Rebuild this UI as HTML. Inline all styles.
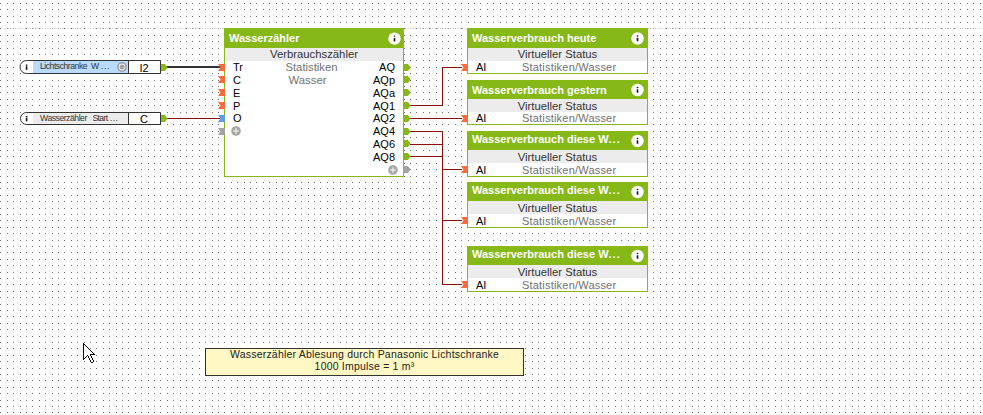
<!DOCTYPE html>
<html><head><meta charset="utf-8"><style>
html,body{margin:0;padding:0;}
body{width:983px;height:415px;overflow:hidden;position:relative;background:#fff;font-family:'Liberation Sans', sans-serif;}
</style></head><body>
<svg width="983" height="415" style="position:absolute;left:0;top:0">
<defs><pattern id="dp" x="0" y="0" width="32" height="32" patternUnits="userSpaceOnUse"><g fill="#6e6e6e"><rect x="0" y="3" width="1" height="1"/><rect x="0" y="9" width="1" height="1"/><rect x="0" y="16" width="1" height="1"/><rect x="0" y="22" width="1" height="1"/><rect x="0" y="28" width="1" height="1"/><rect x="7" y="3" width="1" height="1"/><rect x="7" y="9" width="1" height="1"/><rect x="7" y="16" width="1" height="1"/><rect x="7" y="22" width="1" height="1"/><rect x="7" y="28" width="1" height="1"/><rect x="13" y="3" width="1" height="1"/><rect x="13" y="9" width="1" height="1"/><rect x="13" y="16" width="1" height="1"/><rect x="13" y="22" width="1" height="1"/><rect x="13" y="28" width="1" height="1"/><rect x="20" y="3" width="1" height="1"/><rect x="20" y="9" width="1" height="1"/><rect x="20" y="16" width="1" height="1"/><rect x="20" y="22" width="1" height="1"/><rect x="20" y="28" width="1" height="1"/><rect x="26" y="3" width="1" height="1"/><rect x="26" y="9" width="1" height="1"/><rect x="26" y="16" width="1" height="1"/><rect x="26" y="22" width="1" height="1"/><rect x="26" y="28" width="1" height="1"/></g></pattern></defs>
<rect x="0" y="0" width="983" height="415" fill="url(#dp)"/>
<line x1="5" y1="28.5" x2="983" y2="28.5" stroke="#c4c4c4" stroke-width="1" stroke-dasharray="1 1.5"/>
<line x1="6" y1="29" x2="6" y2="415" stroke="#ececec" stroke-width="2" stroke-dasharray="1 1"/>
</svg><div style="position:absolute;left:224px;top:28px;width:180px;height:149px;box-sizing:border-box;border:1px solid #86b817;background:#fff"></div><div style="position:absolute;left:224px;top:28px;width:180px;height:20px;background:#86b817"></div><div style="position:absolute;left:225px;top:48px;width:178px;height:13px;background:#ececec"></div><div style="position:absolute;left:229px;top:31px;text-align:left;white-space:pre;font-family:'Liberation Sans', sans-serif;font-size:11px;font-weight:bold;color:#fff;line-height:14px">Wasserzähler</div><div style="position:absolute;left:224px;top:47px;width:180px;text-align:center;white-space:pre;font-family:'Liberation Sans', sans-serif;font-size:11.3px;color:#333;line-height:14px">Verbrauchszähler</div><svg width="14" height="14" style="position:absolute;left:387px;top:31px" viewBox="0 0 14 14">
<circle cx="7.50" cy="7.60" r="6.2" fill="#fff"/>
<ellipse cx="7.50" cy="5.10" rx="0.9" ry="0.7" fill="#111"/>
<rect x="6.70" y="6.90" width="1.6" height="3.5" rx="0.5" fill="#111"/>
</svg><div style="position:absolute;left:467px;top:28px;width:181px;height:46px;box-sizing:border-box;border:1px solid #86b817;background:#fff"></div><div style="position:absolute;left:467px;top:28px;width:181px;height:20px;background:#86b817"></div><div style="position:absolute;left:468px;top:48px;width:179px;height:13px;background:#ececec"></div><div style="position:absolute;left:472px;top:31px;text-align:left;white-space:pre;font-family:'Liberation Sans', sans-serif;font-size:11px;font-weight:bold;color:#fff;line-height:14px">Wasserverbrauch heute</div><div style="position:absolute;left:467px;top:47px;width:181px;text-align:center;white-space:pre;font-family:'Liberation Sans', sans-serif;font-size:11.3px;color:#333;line-height:14px">Virtueller Status</div><svg width="14" height="14" style="position:absolute;left:630px;top:31px" viewBox="0 0 14 14">
<circle cx="7.50" cy="7.50" r="6.2" fill="#fff"/>
<ellipse cx="7.50" cy="5.00" rx="0.9" ry="0.7" fill="#111"/>
<rect x="6.70" y="6.80" width="1.6" height="3.5" rx="0.5" fill="#111"/>
</svg><div style="position:absolute;left:476px;top:60px;text-align:left;white-space:pre;font-family:'Liberation Sans', sans-serif;font-size:11px;color:#000;line-height:14px">AI</div><div style="position:absolute;left:522px;top:60px;text-align:left;white-space:pre;font-family:'Liberation Sans', sans-serif;font-size:11px;letter-spacing:0.2px;color:#707070;line-height:14px">Statistiken/Wasser</div><div style="position:absolute;left:467px;top:80px;width:181px;height:45px;box-sizing:border-box;border:1px solid #86b817;background:#fff"></div><div style="position:absolute;left:467px;top:80px;width:181px;height:19px;background:#86b817"></div><div style="position:absolute;left:468px;top:99px;width:179px;height:13px;background:#ececec"></div><div style="position:absolute;left:472px;top:83px;text-align:left;white-space:pre;font-family:'Liberation Sans', sans-serif;font-size:11px;font-weight:bold;color:#fff;line-height:14px">Wasserverbrauch gestern</div><div style="position:absolute;left:467px;top:99px;width:181px;text-align:center;white-space:pre;font-family:'Liberation Sans', sans-serif;font-size:11.3px;color:#333;line-height:14px">Virtueller Status</div><svg width="14" height="14" style="position:absolute;left:630px;top:83px" viewBox="0 0 14 14">
<circle cx="7.50" cy="7.00" r="6.2" fill="#fff"/>
<ellipse cx="7.50" cy="4.50" rx="0.9" ry="0.7" fill="#111"/>
<rect x="6.70" y="6.30" width="1.6" height="3.5" rx="0.5" fill="#111"/>
</svg><div style="position:absolute;left:476px;top:111px;text-align:left;white-space:pre;font-family:'Liberation Sans', sans-serif;font-size:11px;color:#000;line-height:14px">AI</div><div style="position:absolute;left:522px;top:111px;text-align:left;white-space:pre;font-family:'Liberation Sans', sans-serif;font-size:11px;letter-spacing:0.2px;color:#707070;line-height:14px">Statistiken/Wasser</div><div style="position:absolute;left:467px;top:131px;width:181px;height:46px;box-sizing:border-box;border:1px solid #86b817;background:#fff"></div><div style="position:absolute;left:467px;top:131px;width:181px;height:19px;background:#86b817"></div><div style="position:absolute;left:468px;top:150px;width:179px;height:13px;background:#ececec"></div><div style="position:absolute;left:472px;top:132px;text-align:left;white-space:pre;font-family:'Liberation Sans', sans-serif;font-size:11px;font-weight:bold;color:#fff;line-height:14px">Wasserverbrauch diese W<span style='letter-spacing:1px'>...</span></div><div style="position:absolute;left:467px;top:150px;width:181px;text-align:center;white-space:pre;font-family:'Liberation Sans', sans-serif;font-size:11.3px;color:#333;line-height:14px">Virtueller Status</div><svg width="14" height="14" style="position:absolute;left:630px;top:134px" viewBox="0 0 14 14">
<circle cx="7.50" cy="7.00" r="6.2" fill="#fff"/>
<ellipse cx="7.50" cy="4.50" rx="0.9" ry="0.7" fill="#111"/>
<rect x="6.70" y="6.30" width="1.6" height="3.5" rx="0.5" fill="#111"/>
</svg><div style="position:absolute;left:476px;top:163px;text-align:left;white-space:pre;font-family:'Liberation Sans', sans-serif;font-size:11px;color:#000;line-height:14px">AI</div><div style="position:absolute;left:522px;top:163px;text-align:left;white-space:pre;font-family:'Liberation Sans', sans-serif;font-size:11px;letter-spacing:0.2px;color:#707070;line-height:14px">Statistiken/Wasser</div><div style="position:absolute;left:467px;top:182px;width:181px;height:46px;box-sizing:border-box;border:1px solid #86b817;background:#fff"></div><div style="position:absolute;left:467px;top:182px;width:181px;height:19px;background:#86b817"></div><div style="position:absolute;left:468px;top:201px;width:179px;height:13px;background:#ececec"></div><div style="position:absolute;left:472px;top:183px;text-align:left;white-space:pre;font-family:'Liberation Sans', sans-serif;font-size:11px;font-weight:bold;color:#fff;line-height:14px">Wasserverbrauch diese W<span style='letter-spacing:1px'>...</span></div><div style="position:absolute;left:467px;top:201px;width:181px;text-align:center;white-space:pre;font-family:'Liberation Sans', sans-serif;font-size:11.3px;color:#333;line-height:14px">Virtueller Status</div><svg width="14" height="14" style="position:absolute;left:630px;top:185px" viewBox="0 0 14 14">
<circle cx="7.50" cy="7.00" r="6.2" fill="#fff"/>
<ellipse cx="7.50" cy="4.50" rx="0.9" ry="0.7" fill="#111"/>
<rect x="6.70" y="6.30" width="1.6" height="3.5" rx="0.5" fill="#111"/>
</svg><div style="position:absolute;left:476px;top:214px;text-align:left;white-space:pre;font-family:'Liberation Sans', sans-serif;font-size:11px;color:#000;line-height:14px">AI</div><div style="position:absolute;left:522px;top:214px;text-align:left;white-space:pre;font-family:'Liberation Sans', sans-serif;font-size:11px;letter-spacing:0.2px;color:#707070;line-height:14px">Statistiken/Wasser</div><div style="position:absolute;left:467px;top:246px;width:181px;height:46px;box-sizing:border-box;border:1px solid #86b817;background:#fff"></div><div style="position:absolute;left:467px;top:246px;width:181px;height:19px;background:#86b817"></div><div style="position:absolute;left:468px;top:265px;width:179px;height:13px;background:#ececec"></div><div style="position:absolute;left:472px;top:247px;text-align:left;white-space:pre;font-family:'Liberation Sans', sans-serif;font-size:11px;font-weight:bold;color:#fff;line-height:14px">Wasserverbrauch diese W<span style='letter-spacing:1px'>...</span></div><div style="position:absolute;left:467px;top:265px;width:181px;text-align:center;white-space:pre;font-family:'Liberation Sans', sans-serif;font-size:11.3px;color:#333;line-height:14px">Virtueller Status</div><svg width="14" height="14" style="position:absolute;left:630px;top:249px" viewBox="0 0 14 14">
<circle cx="7.50" cy="7.00" r="6.2" fill="#fff"/>
<ellipse cx="7.50" cy="4.50" rx="0.9" ry="0.7" fill="#111"/>
<rect x="6.70" y="6.30" width="1.6" height="3.5" rx="0.5" fill="#111"/>
</svg><div style="position:absolute;left:476px;top:278px;text-align:left;white-space:pre;font-family:'Liberation Sans', sans-serif;font-size:11px;color:#000;line-height:14px">AI</div><div style="position:absolute;left:522px;top:278px;text-align:left;white-space:pre;font-family:'Liberation Sans', sans-serif;font-size:11px;letter-spacing:0.2px;color:#707070;line-height:14px">Statistiken/Wasser</div><svg width="983" height="415" style="position:absolute;left:0;top:0">
<g fill="none" stroke="#8c0b0b" stroke-width="1" shape-rendering="crispEdges">
<polyline points="410,105.5 442.5,105.5 442.5,67.5 462,67.5"/>
<polyline points="410,118.5 462,118.5"/>
<polyline points="410,131.5 442.5,131.5"/>
<polyline points="410,144.5 442.5,144.5"/>
<polyline points="410,156.5 442.5,156.5"/>
<polyline points="442.5,131 442.5,284.5 462,284.5"/>
<polyline points="442.5,169.5 462,169.5"/>
<polyline points="442.5,220.5 462,220.5"/>
<polyline points="166,118.5 220,118.5"/>
</g>
<line x1="166" y1="67" x2="221" y2="67" stroke="#333" stroke-width="2"/>
</svg><div style="position:absolute;left:233px;top:60px;text-align:left;white-space:pre;font-family:'Liberation Sans', sans-serif;font-size:11px;color:#000;line-height:14px">Tr</div><div style="position:absolute;left:233px;top:73px;text-align:left;white-space:pre;font-family:'Liberation Sans', sans-serif;font-size:11px;color:#000;line-height:14px">C</div><div style="position:absolute;left:233px;top:86px;text-align:left;white-space:pre;font-family:'Liberation Sans', sans-serif;font-size:11px;color:#000;line-height:14px">E</div><div style="position:absolute;left:233px;top:99px;text-align:left;white-space:pre;font-family:'Liberation Sans', sans-serif;font-size:11px;color:#000;line-height:14px">P</div><div style="position:absolute;left:233px;top:111px;text-align:left;white-space:pre;font-family:'Liberation Sans', sans-serif;font-size:11px;color:#000;line-height:14px">O</div><div style="position:absolute;left:295px;top:60px;width:100px;text-align:right;white-space:pre;font-family:'Liberation Sans', sans-serif;font-size:11px;color:#000;line-height:14px">AQ</div><div style="position:absolute;left:295px;top:73px;width:100px;text-align:right;white-space:pre;font-family:'Liberation Sans', sans-serif;font-size:11px;color:#000;line-height:14px">AQp</div><div style="position:absolute;left:295px;top:86px;width:100px;text-align:right;white-space:pre;font-family:'Liberation Sans', sans-serif;font-size:11px;color:#000;line-height:14px">AQa</div><div style="position:absolute;left:295px;top:99px;width:100px;text-align:right;white-space:pre;font-family:'Liberation Sans', sans-serif;font-size:11px;color:#000;line-height:14px">AQ1</div><div style="position:absolute;left:295px;top:111px;width:100px;text-align:right;white-space:pre;font-family:'Liberation Sans', sans-serif;font-size:11px;color:#000;line-height:14px">AQ2</div><div style="position:absolute;left:295px;top:124px;width:100px;text-align:right;white-space:pre;font-family:'Liberation Sans', sans-serif;font-size:11px;color:#000;line-height:14px">AQ4</div><div style="position:absolute;left:295px;top:137px;width:100px;text-align:right;white-space:pre;font-family:'Liberation Sans', sans-serif;font-size:11px;color:#000;line-height:14px">AQ6</div><div style="position:absolute;left:295px;top:150px;width:100px;text-align:right;white-space:pre;font-family:'Liberation Sans', sans-serif;font-size:11px;color:#000;line-height:14px">AQ8</div><div style="position:absolute;left:224px;top:60px;width:175px;text-align:center;white-space:pre;font-family:'Liberation Sans', sans-serif;font-size:11.3px;color:#727272;line-height:14px">Statistiken</div><div style="position:absolute;left:224px;top:73px;width:167px;text-align:center;white-space:pre;font-family:'Liberation Sans', sans-serif;font-size:11.3px;color:#727272;line-height:14px">Wasser</div><svg width="983" height="415" style="position:absolute;left:0;top:0"><polygon points="218,64 225,64 225,71 218,71 220.5,67.5" fill="#ff6a3c"/><polygon points="218,76 225,76 225,83 218,83 220.5,79.5" fill="#ff6a3c"/><polygon points="218,89 225,89 225,96 218,96 220.5,92.5" fill="#ff6a3c"/><polygon points="218,102 225,102 225,109 218,109 220.5,105.5" fill="#ff6a3c"/><polygon points="218,115 225,115 225,122 218,122 220.5,118.5" fill="#5b9de6"/><polygon points="218,128 225,128 225,135 218,135 220.5,131.5" fill="#a2a2a2"/><polygon points="403,64 408,64 410.5,67.5 408,71 403,71" fill="#86b817"/><polygon points="403,76 408,76 410.5,79.5 408,83 403,83" fill="#86b817"/><polygon points="403,89 408,89 410.5,92.5 408,96 403,96" fill="#86b817"/><polygon points="403,102 408,102 410.5,105.5 408,109 403,109" fill="#86b817"/><polygon points="403,115 408,115 410.5,118.5 408,122 403,122" fill="#86b817"/><polygon points="403,128 408,128 410.5,131.5 408,135 403,135" fill="#86b817"/><polygon points="403,140 408,140 410.5,143.5 408,147 403,147" fill="#86b817"/><polygon points="403,153 408,153 410.5,156.5 408,160 403,160" fill="#86b817"/><polygon points="403,166 408,166 410.5,169.5 408,173 403,173" fill="#a2a2a2"/><polygon points="461,64 468,64 468,71 461,71 463.5,67.5" fill="#ff6a3c"/><polygon points="461,115 468,115 468,122 461,122 463.5,118.5" fill="#ff6a3c"/><polygon points="461,166 468,166 468,173 461,173 463.5,169.5" fill="#ff6a3c"/><polygon points="461,217 468,217 468,224 461,224 463.5,220.5" fill="#ff6a3c"/><polygon points="461,281 468,281 468,288 461,288 463.5,284.5" fill="#ff6a3c"/><polygon points="160,64 165,64 167.5,67.5 165,71 160,71" fill="#86b817"/><polygon points="160,115 165,115 167.5,118.5 165,122 160,122" fill="#86b817"/></svg><svg width="12" height="12" style="position:absolute;left:230px;top:125px" viewBox="0 0 12 12">
<circle cx="6" cy="6" r="4.8" fill="#a6a6a6"/>
<rect x="5.35" y="3.2" width="1.3" height="5.6" fill="#eee"/><rect x="3.2" y="5.35" width="5.6" height="1.3" fill="#eee"/>
</svg><svg width="12" height="12" style="position:absolute;left:386.5px;top:163.5px" viewBox="0 0 12 12">
<circle cx="6" cy="6" r="4.8" fill="#a6a6a6"/>
<rect x="5.35" y="3.2" width="1.3" height="5.6" fill="#eee"/><rect x="3.2" y="5.35" width="5.6" height="1.3" fill="#eee"/>
</svg><svg width="150" height="16" style="position:absolute;left:15px;top:59px" viewBox="0 0 150 16">
<path d="M11.5,1.5 H145.5 V14.5 H11.5 A6.5,6.5 0 0 1 11.5,1.5 Z" fill="#fff" stroke="#333" stroke-width="1"/>
<rect x="18" y="2" width="95" height="12" fill="#b8dbff"/>
<line x1="113.5" y1="1.5" x2="113.5" y2="14.5" stroke="#333" stroke-width="1"/>
<rect x="10.8" y="5.5" width="1.6" height="1.3" fill="#111"/>
<rect x="10.8" y="7.3" width="1.6" height="3.5" fill="#111"/>
</svg><div style="position:absolute;left:40px;top:60px;text-align:left;white-space:pre;font-family:'Liberation Sans', sans-serif;font-size:8.7px;color:#333;line-height:12px;letter-spacing:-0.5px">Lichtschranke</div><div style="position:absolute;left:91px;top:60px;text-align:left;white-space:pre;font-family:'Liberation Sans', sans-serif;font-size:8.7px;color:#333;line-height:12px;letter-spacing:0px">W</div><div style="position:absolute;left:101px;top:60px;text-align:left;white-space:pre;font-family:'Liberation Sans', sans-serif;font-size:8.7px;color:#333;line-height:12px;letter-spacing:0.6px">...</div><div style="position:absolute;left:128px;top:61px;width:32px;text-align:center;white-space:pre;font-family:'Liberation Sans', sans-serif;font-size:11px;color:#000;line-height:14px">I2</div><svg width="12" height="12" style="position:absolute;left:116.1px;top:60.900000000000006px" viewBox="0 0 12 12">
<circle cx="6" cy="6" r="4.9" fill="#9c9c9c"/><circle cx="6" cy="6" r="3.4" fill="#f4f4f4"/><circle cx="6" cy="6" r="2.5" fill="#a4a4a4"/></svg><svg width="150" height="16" style="position:absolute;left:15px;top:111px" viewBox="0 0 150 16">
<path d="M11.5,1.5 H145.5 V13.5 H11.5 A6.0,6.0 0 0 1 11.5,1.5 Z" fill="#fff" stroke="#333" stroke-width="1"/>
<rect x="18" y="2" width="95" height="11" fill="#ececec"/>
<line x1="113.5" y1="1.5" x2="113.5" y2="13.5" stroke="#333" stroke-width="1"/>
<rect x="10.8" y="5.0" width="1.6" height="1.3" fill="#111"/>
<rect x="10.8" y="6.8" width="1.6" height="3.5" fill="#111"/>
</svg><div style="position:absolute;left:40px;top:112px;text-align:left;white-space:pre;font-family:'Liberation Sans', sans-serif;font-size:8.7px;color:#333;line-height:12px;letter-spacing:-0.5px">Wasserzähler</div><div style="position:absolute;left:92.5px;top:112px;text-align:left;white-space:pre;font-family:'Liberation Sans', sans-serif;font-size:8.7px;color:#333;line-height:12px;letter-spacing:-0.7px">Start</div><div style="position:absolute;left:110px;top:112px;text-align:left;white-space:pre;font-family:'Liberation Sans', sans-serif;font-size:8.7px;color:#333;line-height:12px;letter-spacing:0.3px">...</div><div style="position:absolute;left:128px;top:112px;width:32px;text-align:center;white-space:pre;font-family:'Liberation Sans', sans-serif;font-size:11px;color:#000;line-height:14px">C</div><div style="position:absolute;left:205px;top:348px;width:319px;height:28px;box-sizing:border-box;border:1px solid #333;background:#fff8c4"></div><div style="position:absolute;left:205px;top:348px;width:319px;text-align:center;white-space:pre;font-family:'Liberation Sans', sans-serif;font-size:10.5px;color:#222;line-height:12px;letter-spacing:0.2px">Wasserzähler Ablesung durch Panasonic Lichtschranke
1000 Impulse = 1 m³</div><svg width="12" height="20" style="position:absolute;left:83px;top:343px" shape-rendering="crispEdges"><rect x="0" y="0" width="1" height="1" fill="#000"/><rect x="0" y="1" width="1" height="1" fill="#000"/><rect x="1" y="1" width="1" height="1" fill="#000"/><rect x="0" y="2" width="1" height="1" fill="#000"/><rect x="1" y="2" width="1" height="1" fill="#fff"/><rect x="2" y="2" width="1" height="1" fill="#000"/><rect x="0" y="3" width="1" height="1" fill="#000"/><rect x="1" y="3" width="1" height="1" fill="#fff"/><rect x="2" y="3" width="1" height="1" fill="#fff"/><rect x="3" y="3" width="1" height="1" fill="#000"/><rect x="0" y="4" width="1" height="1" fill="#000"/><rect x="1" y="4" width="1" height="1" fill="#fff"/><rect x="2" y="4" width="1" height="1" fill="#fff"/><rect x="3" y="4" width="1" height="1" fill="#fff"/><rect x="4" y="4" width="1" height="1" fill="#000"/><rect x="0" y="5" width="1" height="1" fill="#000"/><rect x="1" y="5" width="1" height="1" fill="#fff"/><rect x="2" y="5" width="1" height="1" fill="#fff"/><rect x="3" y="5" width="1" height="1" fill="#fff"/><rect x="4" y="5" width="1" height="1" fill="#fff"/><rect x="5" y="5" width="1" height="1" fill="#000"/><rect x="0" y="6" width="1" height="1" fill="#000"/><rect x="1" y="6" width="1" height="1" fill="#fff"/><rect x="2" y="6" width="1" height="1" fill="#fff"/><rect x="3" y="6" width="1" height="1" fill="#fff"/><rect x="4" y="6" width="1" height="1" fill="#fff"/><rect x="5" y="6" width="1" height="1" fill="#fff"/><rect x="6" y="6" width="1" height="1" fill="#000"/><rect x="0" y="7" width="1" height="1" fill="#000"/><rect x="1" y="7" width="1" height="1" fill="#fff"/><rect x="2" y="7" width="1" height="1" fill="#fff"/><rect x="3" y="7" width="1" height="1" fill="#fff"/><rect x="4" y="7" width="1" height="1" fill="#fff"/><rect x="5" y="7" width="1" height="1" fill="#fff"/><rect x="6" y="7" width="1" height="1" fill="#fff"/><rect x="7" y="7" width="1" height="1" fill="#000"/><rect x="0" y="8" width="1" height="1" fill="#000"/><rect x="1" y="8" width="1" height="1" fill="#fff"/><rect x="2" y="8" width="1" height="1" fill="#fff"/><rect x="3" y="8" width="1" height="1" fill="#fff"/><rect x="4" y="8" width="1" height="1" fill="#fff"/><rect x="5" y="8" width="1" height="1" fill="#fff"/><rect x="6" y="8" width="1" height="1" fill="#fff"/><rect x="7" y="8" width="1" height="1" fill="#fff"/><rect x="8" y="8" width="1" height="1" fill="#000"/><rect x="0" y="9" width="1" height="1" fill="#000"/><rect x="1" y="9" width="1" height="1" fill="#fff"/><rect x="2" y="9" width="1" height="1" fill="#fff"/><rect x="3" y="9" width="1" height="1" fill="#fff"/><rect x="4" y="9" width="1" height="1" fill="#fff"/><rect x="5" y="9" width="1" height="1" fill="#fff"/><rect x="6" y="9" width="1" height="1" fill="#fff"/><rect x="7" y="9" width="1" height="1" fill="#fff"/><rect x="8" y="9" width="1" height="1" fill="#fff"/><rect x="9" y="9" width="1" height="1" fill="#000"/><rect x="0" y="10" width="1" height="1" fill="#000"/><rect x="1" y="10" width="1" height="1" fill="#fff"/><rect x="2" y="10" width="1" height="1" fill="#fff"/><rect x="3" y="10" width="1" height="1" fill="#fff"/><rect x="4" y="10" width="1" height="1" fill="#fff"/><rect x="5" y="10" width="1" height="1" fill="#fff"/><rect x="6" y="10" width="1" height="1" fill="#fff"/><rect x="7" y="10" width="1" height="1" fill="#fff"/><rect x="8" y="10" width="1" height="1" fill="#fff"/><rect x="9" y="10" width="1" height="1" fill="#fff"/><rect x="10" y="10" width="1" height="1" fill="#000"/><rect x="0" y="11" width="1" height="1" fill="#000"/><rect x="1" y="11" width="1" height="1" fill="#fff"/><rect x="2" y="11" width="1" height="1" fill="#fff"/><rect x="3" y="11" width="1" height="1" fill="#fff"/><rect x="4" y="11" width="1" height="1" fill="#fff"/><rect x="5" y="11" width="1" height="1" fill="#fff"/><rect x="6" y="11" width="1" height="1" fill="#fff"/><rect x="7" y="11" width="1" height="1" fill="#000"/><rect x="8" y="11" width="1" height="1" fill="#000"/><rect x="9" y="11" width="1" height="1" fill="#000"/><rect x="10" y="11" width="1" height="1" fill="#000"/><rect x="11" y="11" width="1" height="1" fill="#000"/><rect x="0" y="12" width="1" height="1" fill="#000"/><rect x="1" y="12" width="1" height="1" fill="#fff"/><rect x="2" y="12" width="1" height="1" fill="#fff"/><rect x="3" y="12" width="1" height="1" fill="#fff"/><rect x="4" y="12" width="1" height="1" fill="#000"/><rect x="5" y="12" width="1" height="1" fill="#fff"/><rect x="6" y="12" width="1" height="1" fill="#fff"/><rect x="7" y="12" width="1" height="1" fill="#000"/><rect x="0" y="13" width="1" height="1" fill="#000"/><rect x="1" y="13" width="1" height="1" fill="#fff"/><rect x="2" y="13" width="1" height="1" fill="#fff"/><rect x="3" y="13" width="1" height="1" fill="#000"/><rect x="5" y="13" width="1" height="1" fill="#000"/><rect x="6" y="13" width="1" height="1" fill="#fff"/><rect x="7" y="13" width="1" height="1" fill="#fff"/><rect x="8" y="13" width="1" height="1" fill="#000"/><rect x="0" y="14" width="1" height="1" fill="#000"/><rect x="1" y="14" width="1" height="1" fill="#fff"/><rect x="2" y="14" width="1" height="1" fill="#000"/><rect x="5" y="14" width="1" height="1" fill="#000"/><rect x="6" y="14" width="1" height="1" fill="#fff"/><rect x="7" y="14" width="1" height="1" fill="#fff"/><rect x="8" y="14" width="1" height="1" fill="#000"/><rect x="0" y="15" width="1" height="1" fill="#000"/><rect x="1" y="15" width="1" height="1" fill="#000"/><rect x="6" y="15" width="1" height="1" fill="#000"/><rect x="7" y="15" width="1" height="1" fill="#fff"/><rect x="8" y="15" width="1" height="1" fill="#fff"/><rect x="9" y="15" width="1" height="1" fill="#000"/><rect x="0" y="16" width="1" height="1" fill="#000"/><rect x="6" y="16" width="1" height="1" fill="#000"/><rect x="7" y="16" width="1" height="1" fill="#fff"/><rect x="8" y="16" width="1" height="1" fill="#fff"/><rect x="9" y="16" width="1" height="1" fill="#000"/><rect x="7" y="17" width="1" height="1" fill="#000"/><rect x="8" y="17" width="1" height="1" fill="#fff"/><rect x="9" y="17" width="1" height="1" fill="#fff"/><rect x="10" y="17" width="1" height="1" fill="#000"/><rect x="7" y="18" width="1" height="1" fill="#000"/><rect x="8" y="18" width="1" height="1" fill="#fff"/><rect x="9" y="18" width="1" height="1" fill="#fff"/><rect x="10" y="18" width="1" height="1" fill="#000"/><rect x="8" y="19" width="1" height="1" fill="#000"/><rect x="9" y="19" width="1" height="1" fill="#000"/></svg>
</body></html>
